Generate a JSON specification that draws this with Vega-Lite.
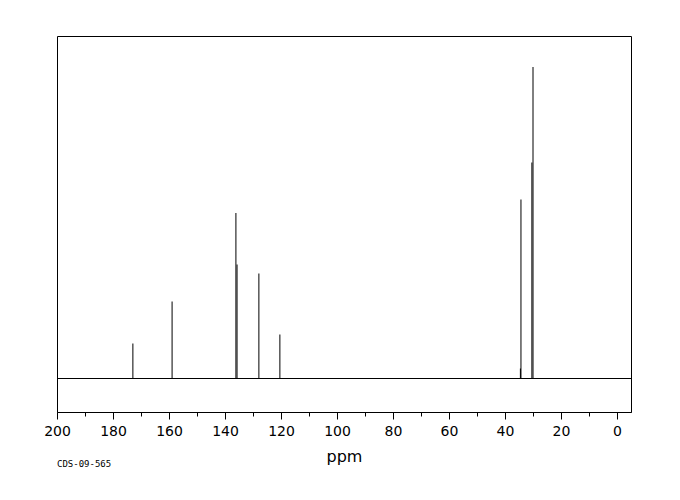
{
  "$schema": "https://vega.github.io/schema/vega-lite/v6.json",
  "width": 574,
  "height": 376,
  "autosize": {"type": "none"},
  "padding": {"left": 57, "top": 36, "right": 49, "bottom": 88},
  "background": "white",
  "config": {
    "view": {"stroke": "black", "strokeWidth": 1},
    "font": "DejaVu Sans"
  },
  "title": {
    "text": "CDS-09-565",
    "orient": "bottom",
    "anchor": "start",
    "frame": "group",
    "font": "DejaVu Sans Mono",
    "fontSize": 9,
    "fontWeight": "normal",
    "color": "black",
    "offset": -4
  },
  "data": {
    "values": [
      {"ppm": 172.9, "intensity": 35},
      {"ppm": 158.9, "intensity": 77},
      {"ppm": 136.1, "intensity": 165.5},
      {"ppm": 135.7, "intensity": 114},
      {"ppm": 127.9, "intensity": 105},
      {"ppm": 120.4, "intensity": 44},
      {"ppm": 34.5, "intensity": 10},
      {"ppm": 34.3, "intensity": 179},
      {"ppm": 30.4, "intensity": 216},
      {"ppm": 30.0, "intensity": 311.5}
    ]
  },
  "layer": [
    {
      "mark": {"type": "rule", "color": "black", "strokeWidth": 1},
      "encoding": {
        "y": {"datum": 0, "type": "quantitative", "scale": {"domain": [-33.5, 342.5], "nice": false, "zero": false}, "axis": null}
      }
    },
    {
      "mark": {"type": "rule", "color": "black", "strokeWidth": 1},
      "encoding": {
        "x": {
          "field": "ppm",
          "type": "quantitative",
          "scale": {"domain": [200, -5.0], "nice": false, "zero": false},
          "axis": {
            "title": "ppm",
            "titleFont": "DejaVu Sans",
            "titleFontSize": 16,
            "titleFontWeight": "normal",
            "titleColor": "black",
            "titlePadding": 10,
            "values": [200, 190, 180, 170, 160, 150, 140, 130, 120, 110, 100, 90, 80, 70, 60, 50, 40, 30, 20, 10, 0],
            "labelExpr": "datum.value % 20 === 0 ? datum.label : ''",
            "labelOverlap": false,
            "labelFlush": false,
            "labelFont": "DejaVu Sans",
            "labelFontSize": 14,
            "labelColor": "black",
            "labelPadding": 5,
            "tickSize": {"condition": {"test": "datum.value % 20 === 0", "value": 7}, "value": 4},
            "tickColor": "black",
            "domainColor": "black",
            "grid": false
          }
        },
        "y": {"field": "intensity", "type": "quantitative"},
        "y2": {"datum": 0}
      }
    }
  ]
}
